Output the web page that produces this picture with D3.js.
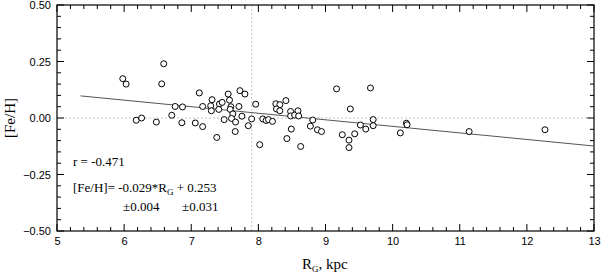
<!DOCTYPE html>
<meta charset="utf-8">
<script src="https://d3js.org/d3.v7.min.js"></script>
<style>
  body { margin: 0; background: #fff; }
  text { fill: #000; }
</style>
<div id="chart"></div>
<script>
  // galactocentric distance (kpc) and [Fe/H]
  const rg = [5.98, 6.03, 6.56, 6.59, 6.18, 6.26, 6.48, 6.71, 6.76, 6.87,
    6.86, 7.06, 7.12, 7.17, 7.17, 7.38, 7.29, 7.31, 7.30, 7.42,
    7.46, 7.49, 7.55, 7.57, 7.59, 7.58, 7.62, 7.60, 7.66, 7.655,
    7.71, 7.755, 7.725, 7.80, 7.85, 7.90, 7.96, 8.02, 8.065, 8.115,
    8.15, 8.21, 8.26, 8.32, 8.27, 8.32, 8.41, 8.48, 8.48, 8.54,
    8.59, 8.60, 8.49, 8.425, 8.63, 8.81, 8.775, 8.88, 8.94, 9.165,
    9.25, 9.37, 9.35, 9.35, 9.435, 9.52, 9.60, 9.67, 9.71, 9.71,
    10.115, 10.205, 10.215, 11.14, 12.27, 7.41];
  const feh = [0.174, 0.150, 0.151, 0.240, -0.010, 0.000, -0.018, 0.012, 0.051, 0.049,
    -0.021, -0.022, 0.111, 0.051, -0.038, -0.086, 0.054, 0.081, 0.032, 0.062,
    0.069, -0.007, 0.106, 0.079, 0.050, 0.038, 0.018, -0.002, -0.018, -0.060,
    0.051, 0.008, 0.121, 0.106, -0.034, -0.004, 0.061, -0.118, -0.004, -0.011,
    -0.007, -0.015, 0.063, 0.059, 0.040, 0.032, 0.077, 0.029, 0.009, 0.013,
    0.032, 0.009, -0.049, -0.091, -0.126, -0.009, -0.036, -0.052, -0.060, 0.129,
    -0.074, 0.040, -0.098, -0.131, -0.070, -0.031, -0.049, 0.133, -0.007, -0.034,
    -0.066, -0.023, -0.030, -0.060, -0.052, 0.038];

  // fitted line [Fe/H] = slope*RG + icpt, drawn over this range
  const slope = -0.029, icpt = 0.253;
  const fitRange = [5.35, 13];
  const sunR = 7.9;

  const xTicks = [5, 6, 7, 8, 9, 10, 11, 12, 13];
  const yTicks = [-0.50, -0.25, 0.00, 0.25, 0.50];

  const W = 601, H = 276;
  const margin = {top: 5, right: 7, bottom: 44, left: 57};

  const svg = d3.select("#chart").append("svg")
    .attr("width", W).attr("height", H);

  const x = d3.scaleLinear().domain([5, 13]).range([margin.left, 594]);
  const y = d3.scaleLinear().domain([-0.5, 0.5]).range([231, 5]);

  const x0 = x.range()[0], x1 = x.range()[1];
  const y0 = y.range()[0], y1 = y.range()[1];

  // dotted reference lines
  svg.append("line")
    .attr("x1", x0).attr("x2", x1).attr("y1", y(0)).attr("y2", y(0))
    .attr("stroke", "#aaa").attr("stroke-width", 0.7).attr("stroke-dasharray", "2,2");
  svg.append("line")
    .attr("x1", x(sunR)).attr("x2", x(sunR)).attr("y1", y0).attr("y2", y1)
    .attr("stroke", "#aaa").attr("stroke-width", 0.7).attr("stroke-dasharray", "2,2");

  // minor ticks
  const xMinor = d3.range(5, 13.001, 0.2);
  const yMinor = d3.range(-0.5, 0.5001, 0.05);
  const tk = svg.append("g").attr("stroke", "#000").attr("stroke-width", 1);
  xMinor.forEach(v => {
    const major = Math.abs(v - Math.round(v)) < 1e-6;
    const len = major ? 7 : 4;
    tk.append("line").attr("x1", x(v)).attr("x2", x(v)).attr("y1", y0).attr("y2", y0 - len);
    tk.append("line").attr("x1", x(v)).attr("x2", x(v)).attr("y1", y1).attr("y2", y1 + len);
  });
  yMinor.forEach(v => {
    const major = Math.abs(v * 4 - Math.round(v * 4)) < 1e-6;
    const len = major ? 7 : 4;
    tk.append("line").attr("y1", y(v)).attr("y2", y(v)).attr("x1", x0).attr("x2", x0 + len);
    tk.append("line").attr("y1", y(v)).attr("y2", y(v)).attr("x1", x1).attr("x2", x1 - len);
  });

  // frame
  svg.append("rect")
    .attr("x", x0).attr("y", y1).attr("width", x1 - x0).attr("height", y0 - y1)
    .attr("fill", "none").attr("stroke", "#000").attr("stroke-width", 1.2);

  // axis labels via d3 axes (no tick lines, the ticks are drawn above)
  const xAxis = svg.append("g")
    .attr("transform", `translate(0,${y0})`)
    .call(d3.axisBottom(x).tickValues(xTicks).tickSize(0).tickPadding(6).tickFormat(d3.format("d")));
  const yAxis = svg.append("g")
    .attr("transform", `translate(${x0},0)`)
    .call(d3.axisLeft(y).tickValues(yTicks).tickSize(0).tickPadding(6).tickFormat(d3.format(".2f")));
  [xAxis, yAxis].forEach(a => {
    a.select(".domain").remove();
    a.selectAll("text").attr("font-family", "Liberation Sans, Arial, sans-serif")
      .attr("font-size", 11).attr("fill", "#000");
  });

  // fit line
  svg.append("line")
    .attr("x1", x(fitRange[0])).attr("y1", y(slope * fitRange[0] + icpt))
    .attr("x2", x(fitRange[1])).attr("y2", y(slope * fitRange[1] + icpt))
    .attr("stroke", "#555").attr("stroke-width", 1);

  // points
  svg.append("g").selectAll("circle")
    .data(rg.map((r, i) => [r, feh[i]]))
    .join("circle")
    .attr("cx", d => x(d[0]))
    .attr("cy", d => y(d[1]))
    .attr("r", 3)
    .attr("fill", "#fff")
    .attr("stroke", "#000")
    .attr("stroke-width", 1);

  // annotations
  const serif = "Liberation Serif, Times New Roman, serif";
  svg.append("text").attr("x", 73).attr("y", 166)
    .attr("font-family", serif).attr("font-size", 13).text("r = -0.471");
  const eq = svg.append("text").attr("x", 73).attr("y", 192)
    .attr("font-family", serif).attr("font-size", 13);
  eq.append("tspan").text("[Fe/H]= -0.029*R");
  eq.append("tspan").attr("font-size", 9).attr("dy", 3).text("G");
  eq.append("tspan").attr("dy", -3).text(" + 0.253");
  svg.append("text").attr("x", 123).attr("y", 211)
    .attr("font-family", serif).attr("font-size", 13).text("±0.004");
  svg.append("text").attr("x", 182).attr("y", 211)
    .attr("font-family", serif).attr("font-size", 13).text("±0.031");

  // axis titles
  const xt = svg.append("text").attr("x", 302).attr("y", 269)
    .attr("font-family", serif).attr("font-size", 15);
  xt.append("tspan").text("R");
  xt.append("tspan").attr("font-size", 9).attr("dy", 3).text("G");
  xt.append("tspan").attr("dy", -3).text(", kpc");

  svg.append("text")
    .attr("transform", `translate(15,${y(0)}) rotate(-90)`)
    .attr("text-anchor", "middle")
    .attr("font-family", serif).attr("font-size", 15).text("[Fe/H]");
</script>
